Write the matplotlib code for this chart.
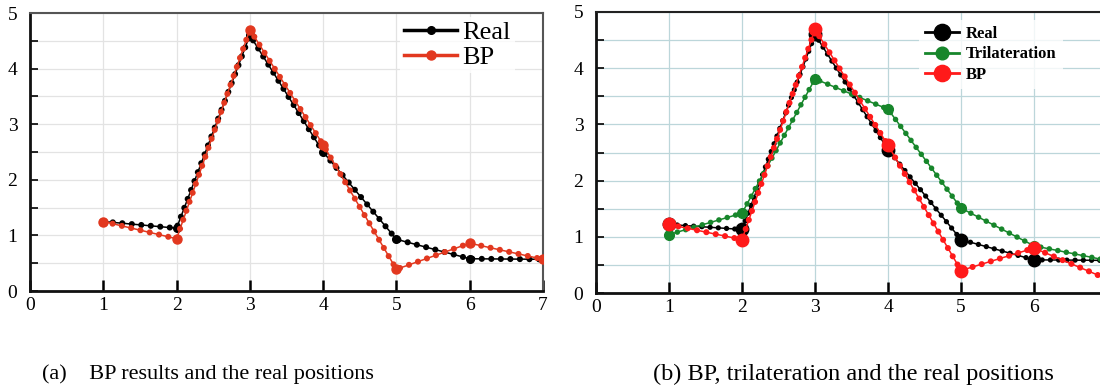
import matplotlib
matplotlib.use('Agg')
import matplotlib.pyplot as plt
from matplotlib.ticker import MultipleLocator, FixedLocator

# positions (x) and distance values
pos = [1, 2, 3, 4, 5, 6, 7]

# (a) BP results and the real positions
real_a = [1.25, 1.13, 4.60, 2.50, 0.93, 0.58, 0.57]
bp_a = [1.25, 0.94, 4.70, 2.63, 0.39, 0.86, 0.57]

# (b) BP, trilateration and the real positions
real_b = [1.22, 1.13, 4.60, 2.55, 0.95, 0.59, 0.58]
tri_b = [1.04, 1.42, 3.81, 3.27, 1.51, 0.84, 0.58]
bp_b = [1.22, 0.95, 4.69, 2.63, 0.40, 0.80, 0.25]

captions = ['(a)    BP results and the real positions',
            '(b) BP, trilateration and the real positions']

plt.rcParams['font.family'] = ['Liberation Serif', 'DejaVu Serif']

W, H = 1100, 387
fig = plt.figure(figsize=(W / 100, H / 100), dpi=100)


def px_axes(x0, x1, ytop, ybot):
    return fig.add_axes([x0 / W, 1 - ybot / H, (x1 - x0) / W, (ybot - ytop) / H])


def dotted(ax, x, y, color, lw=4.4, gap=1.55, ms=6, zorder=3):
    # thin connecting line, round dots along it, bigger dots at the samples
    ax.plot(x, y, color=color, lw=1.1, zorder=zorder)
    ax.plot(x, y, color=color, lw=lw, linestyle=(0, (0.01, gap)),
            dash_capstyle='round', zorder=zorder)
    line, = ax.plot(x, y, color=color, lw=0, marker='o', ms=ms, zorder=zorder)
    return line


def style_axes(ax, grid_color, spine_color):
    ax.set_xlim(0, 7)
    ax.set_ylim(0, 5)
    ax.xaxis.set_major_locator(MultipleLocator(1))
    ax.yaxis.set_major_locator(MultipleLocator(1))
    ax.yaxis.set_minor_locator(MultipleLocator(0.5))
    ax.grid(True, which='both', color=grid_color, lw=0.9, zorder=0)
    ax.tick_params(axis='x', direction='in', length=8, width=1.8, labelsize=14, pad=4)
    ax.tick_params(axis='y', which='both', direction='in', length=6, width=1.2,
                   labelsize=14, pad=9)
    ax.tick_params(axis='x', which='minor', length=0)
    for s in ax.spines.values():
        s.set_color(spine_color)
        s.set_linewidth(1.5)
    ax.spines['left'].set_color('#111111')
    ax.spines['bottom'].set_color('#111111')
    ax.spines['left'].set_linewidth(2)
    ax.spines['bottom'].set_linewidth(2)


# ---- left panel
ax1 = px_axes(30, 543, 13, 291)
style_axes(ax1, '#e3e3e3', '#555555')
h1 = dotted(ax1, pos, real_a, 'black', ms=5.5)
h2 = dotted(ax1, pos, bp_a, '#e2381f', ms=6.5, zorder=4)
leg = ax1.legend([h1, h2], ['Real', 'BP'], loc='upper right',
                 bbox_to_anchor=(0.95, 0.995), fontsize=19, frameon=True,
                 handlelength=2.0, handletextpad=0.2, labelspacing=0.05,
                 borderaxespad=0.1, borderpad=0.15, fancybox=False)
leg.get_frame().set_edgecolor('none')
for l in leg.get_lines():
    l.set_linewidth(2.5)

# ---- right panel (cropped on the right side)
ax2 = px_axes(596, 1107, 12, 293)
style_axes(ax2, '#bcd6da', '#222222')
ax2.xaxis.set_major_locator(FixedLocator([0, 1, 2, 3, 4, 5, 6]))
g1 = dotted(ax2, pos, real_b, 'black', lw=3.8, ms=9)
g2 = dotted(ax2, pos, tri_b, '#17862b', lw=4.0, ms=7, zorder=3)
g3 = dotted(ax2, pos, bp_b, '#ff1a1a', lw=4.4, ms=9, zorder=4)
leg2 = ax2.legend([g1, g2, g3], ['Real', 'Trilateration', 'BP'], loc='upper left',
                  bbox_to_anchor=(0.625, 0.985),
                  prop={'weight': 'bold', 'size': 12}, frameon=True,
                  handlelength=2.0, handletextpad=0.4, labelspacing=0.25,
                  borderaxespad=0.2, fancybox=False, markerscale=1.3)
leg2.get_frame().set_edgecolor('none')
for l in leg2.get_lines():
    l.set_linewidth(2)

# ---- captions
fig.text(208 / W, 1 - 374 / H, captions[0], fontsize=16, va='center', ha='center')
fig.text(853 / W, 1 - 374 / H, captions[1], fontsize=17.5, va='center', ha='center')

fig.savefig('out.png', dpi=100)
